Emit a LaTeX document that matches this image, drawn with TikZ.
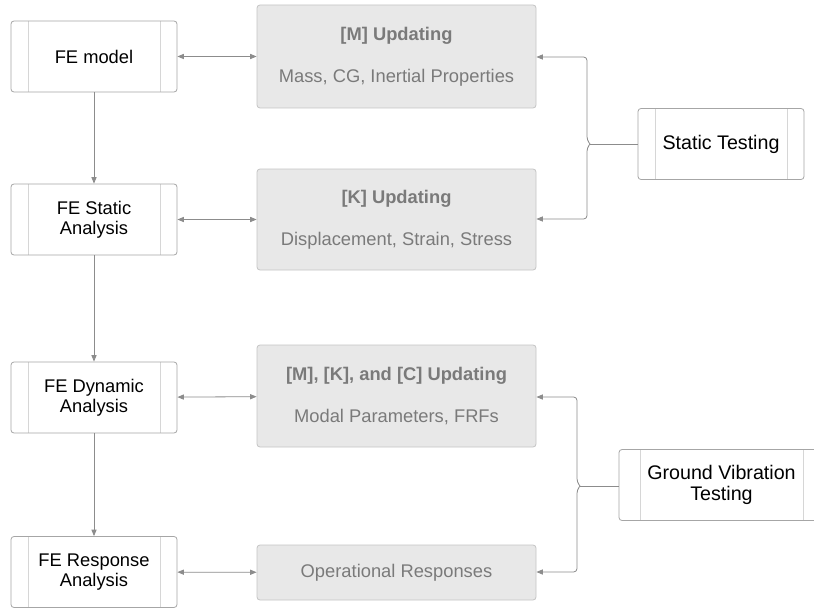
\documentclass[tikz,border=0pt]{standalone}
\usepackage{fontspec}
\setmainfont{Liberation Sans}
\usetikzlibrary{arrows.meta}
\definecolor{lc}{HTML}{8C8C8C}
\definecolor{bc}{HTML}{A6A6A6}
\definecolor{ic}{HTML}{D6D6D6}
\definecolor{gf}{HTML}{E8E8E8}
\definecolor{gb}{HTML}{C4C4C4}
\definecolor{gt}{HTML}{7A7A7A}
\tikzset{
  procbox/.style={draw=bc, line width=0.6pt, fill=white, rounded corners=2.25pt,
    minimum width=124.5pt, minimum height=53.25pt, inner sep=0pt, align=center,
    font=\fontsize{13.75}{15.2}\selectfont, text=black,
    path picture={
      \draw[ic, line width=0.6pt] ([xshift=12.75pt]path picture bounding box.north west) -- ([xshift=12.75pt]path picture bounding box.south west);
      \draw[ic, line width=0.6pt] ([xshift=-12.75pt]path picture bounding box.north east) -- ([xshift=-12.75pt]path picture bounding box.south east);
    }},
  graybox/.style={draw=gb, line width=0.6pt, fill=gf, rounded corners=2.25pt,
    minimum width=209.25pt, inner sep=0pt, align=center,
    font=\fontsize{13.75}{15.5}\selectfont, text=gt},
  conn/.style={draw=lc, line width=0.6pt},
  tip/.tip={Triangle[length=4.8pt,width=3.8pt]},
}
\begin{document}
\begin{tikzpicture}[x=0.75pt,y=-0.75pt]
\clip (0,0) rectangle (814,610);
\fill[white] (0,0) rectangle (814,610);
% left process boxes
\node[procbox] (fe) at (94,56.5) {FE model};
\node[procbox] (fs) at (94,219.5) {FE Static\\Analysis};
\node[procbox] (fd) at (94,397.5) {FE Dynamic\\Analysis};
\node[procbox] (fr) at (94,572) {FE Response\\Analysis};
% gray boxes
\node[graybox, minimum height=77.25pt] (mb) at (396.5,56.5) {\textbf{[M] Updating}\\[16pt]Mass, CG, Inertial Properties};
\node[graybox, minimum height=75.75pt] (kb) at (396.5,219.5) {\textbf{[K] Updating}\\[16pt]Displacement, Strain, Stress};
\node[graybox, minimum height=76.5pt] (cb) at (396.5,396) {\textbf{[M], [K], and [C] Updating}\\[16pt]Modal Parameters, FRFs};
\node[graybox, minimum height=41.25pt] (ob) at (396.5,572.5) {Operational Responses};
% testing boxes
\node[procbox, font=\fontsize{14.75}{15.2}\selectfont] (st) at (721,144) {Static Testing};
\node[procbox, minimum width=153.75pt, font=\fontsize{14.75}{15.2}\selectfont,
  path picture={
      \draw[ic, line width=0.6pt] ([xshift=15.75pt]path picture bounding box.north west) -- ([xshift=15.75pt]path picture bounding box.south west);
      \draw[ic, line width=0.6pt] ([xshift=-15.75pt]path picture bounding box.north east) -- ([xshift=-15.75pt]path picture bounding box.south east);
    }] (gv) at (721.5,485) {Ground Vibration\\Testing};
% vertical flow
\draw[conn, -tip] (fe) -- (fs);
\draw[conn, -tip] (fs) -- (fd);
\draw[conn, -tip] (fd) -- (fr);
% horizontal bidirectional
\draw[conn, tip-tip] (fe) -- (mb);
\draw[conn, tip-tip] (fs) -- (kb);
\draw[conn, tip-tip] (fd) -- (cb);
\draw[conn, tip-tip] (fr) -- (ob);
% braces static
\coordinate (sc) at (590,144);
\draw[conn] (st.west) -- (sc);
\draw[conn, -tip, rounded corners=2.5pt] (sc) -- (587,140) -- (587,57) -- (mb.east |- 0,57);
\draw[conn, -tip, rounded corners=2.5pt] (sc) -- (587,148) -- (587,219) -- (kb.east |- 0,219);
% braces GVT
\coordinate (gc) at (580,486);
\draw[conn] (gv.west |- gc) -- (gc);
\draw[conn, -tip, rounded corners=2.5pt] (gc) -- (577,482) -- (577,397) -- (cb.east |- 0,397);
\draw[conn, -tip, rounded corners=2.5pt] (gc) -- (577,490) -- (577,572) -- (ob.east |- 0,572);
\end{tikzpicture}
\end{document}
